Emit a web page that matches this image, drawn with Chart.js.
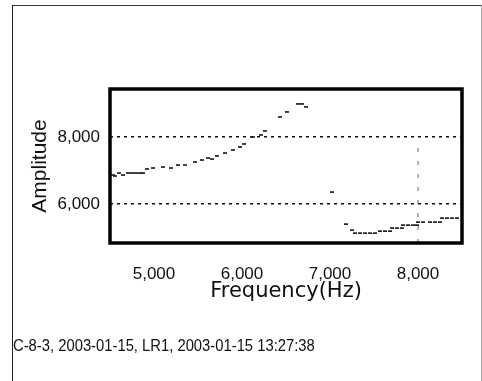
<!DOCTYPE html>
<html>
<head>
<meta charset="utf-8">
<script src="https://cdn.jsdelivr.net/npm/chart.js@4"></script>
<style>
    html, body { margin: 0; padding: 0; background: #fff; }
    body { width: 482px; height: 381px; position: relative; overflow: hidden; }
    #frame {
        position: absolute; left: 12px; top: 5px; width: 468px; height: 400px;
        border-left: 1px solid #222; border-top: 1px solid #333; border-right: 1px solid #aaa;
    }
    #chart { position: absolute; left: 0; top: 0; }
    #footer {
        position: absolute; left: 13px; top: 336px;
        font: 17px "Liberation Sans", Arial, sans-serif;
        color: #111; white-space: nowrap;
        transform: scaleX(0.87); transform-origin: left top;
    }
</style>
</head>
<body>
<div id="frame"></div>
<canvas id="chart" width="482" height="381"></canvas>
<div id="footer">C-8-3, 2003-01-15, LR1, 2003-01-15 13:27:38</div>
<script>
// Tick labels
const xTicks = [5000, 6000, 7000, 8000];
const yTicks = [6000, 8000];

// Measured curve (frequency in Hz, amplitude)
const freqs = [4534, 4557, 4602, 4648, 4705, 4750, 4795, 4840, 4875, 4920, 4989, 5102, 5193, 5273, 5352,
    5466, 5545, 5614, 5659, 5716, 5807, 5898, 5977, 6023, 6125, 6216, 6261, 6432, 6511, 6636, 6682, 6727,
    7023, 7182, 7250, 7284, 7341, 7398, 7455, 7511, 7568, 7625, 7682, 7705, 7762, 7818, 7830, 7887, 7944, 7989,
    8000, 8057, 8136, 8193, 8250, 8273, 8330, 8386, 8443];
const amps = [6866, 6836, 6925, 6866, 6925, 6925, 6925, 6925, 6925, 7045, 7075, 7104, 7075, 7164, 7164,
    7254, 7313, 7373, 7343, 7433, 7522, 7612, 7701, 7791, 8000, 8060, 8179, 8597, 8746, 8985, 8985, 8896,
    6358, 5403, 5224, 5134, 5134, 5134, 5134, 5134, 5194, 5194, 5194, 5284, 5284, 5284, 5373, 5373, 5373, 5373,
    5463, 5463, 5463, 5463, 5463, 5582, 5582, 5582, 5582];

// Vertical marker at 8000 Hz
const markerFreq = [8000, 8000];
const markerAmp = [4840, 7670];

const xMin = 4500, xMax = 8500;
const yMin = 4840, yMax = 9430;

const tickFont = "'Liberation Sans', Arial, sans-serif";

// Thick frame round the plot area
const plotBox = {
    id: "plotBox",
    afterDraw(chart) {
        const a = chart.chartArea;
        const ctx = chart.ctx;
        ctx.save();
        ctx.strokeStyle = "#000";
        ctx.lineWidth = 3.5;
        ctx.strokeRect(a.left, a.top, a.right - a.left, a.bottom - a.top);
        ctx.restore();
    },
};

new Chart(document.getElementById("chart").getContext("2d"), {
    type: "scatter",
    data: {
        datasets: [
            {
                data: freqs.map((f, i) => ({ x: f, y: amps[i] })),
                pointStyle: "line",
                pointRadius: 2,
                pointBorderWidth: 1.6,
                borderColor: "#111",
                backgroundColor: "#111",
                showLine: false,
            },
            {
                data: markerFreq.map((f, i) => ({ x: f, y: markerAmp[i] })),
                showLine: true,
                pointRadius: 0,
                borderColor: "#666",
                borderWidth: 1,
                borderDash: [4, 9],
            },
        ],
    },
    options: {
        responsive: false,
        animation: false,
        events: [],
        layout: { padding: { left: 28, top: 89, right: 20, bottom: 77 } },
        plugins: { legend: { display: false }, tooltip: { enabled: false } },
        scales: {
            x: {
                type: "linear",
                min: xMin,
                max: xMax,
                afterBuildTicks: (scale) => {
                    scale.ticks = xTicks.map((v) => ({ value: v }));
                },
                afterFit: (scale) => {
                    scale.height = 61;
                },
                grid: { display: false, drawTicks: false },
                border: { display: false },
                ticks: {
                    padding: 21,
                    color: "#111",
                    font: { family: tickFont, size: 17 },
                    callback: (v) => v.toLocaleString("en-US"),
                },
                title: {
                    display: true,
                    text: "Frequency(Hz)",
                    color: "#111",
                    padding: 0,
                    font: { family: "'DejaVu Sans', sans-serif", size: 21 },
                },
            },
            y: {
                type: "linear",
                min: yMin,
                max: yMax,
                afterBuildTicks: (scale) => {
                    scale.ticks = yTicks.map((v) => ({ value: v }));
                },
                afterFit: (scale) => {
                    scale.width = 82;
                },
                grid: { color: "#111", lineWidth: 1.5, drawTicks: false },
                border: { display: false, dash: [3, 4] },
                ticks: {
                    padding: 10,
                    color: "#111",
                    font: { family: tickFont, size: 17 },
                    callback: (v) => v.toLocaleString("en-US"),
                },
                title: {
                    display: true,
                    text: "Amplitude",
                    color: "#111",
                    padding: 0,
                    font: { family: "'Liberation Sans', Arial, sans-serif", size: 21 },
                },
            },
        },
    },
    plugins: [plotBox],
});
</script>
</body>
</html>
